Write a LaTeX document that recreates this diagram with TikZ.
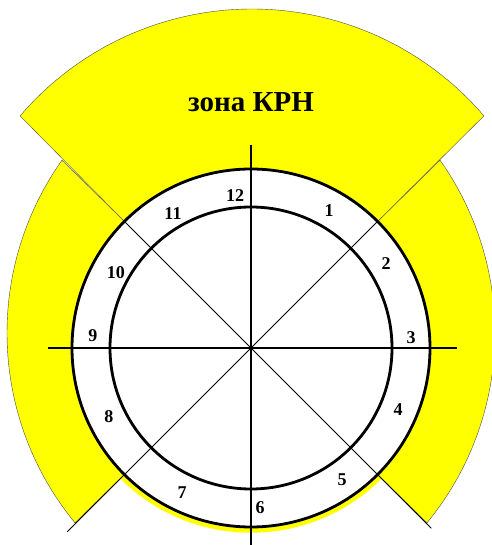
\documentclass[tikz,border=0pt]{standalone}
\usepackage{fontspec}
\setmainfont{Liberation Serif}
\definecolor{zoneyellow}{RGB}{255,255,0}

\begin{document}
\begin{tikzpicture}[x=1pt, y=1pt]
% --- Global Styles ---
\tikzstyle{zone} = [fill=zoneyellow, draw=black!70, line width=0.4pt]
\tikzstyle{ring} = [line width=2.8pt]
\tikzstyle{hline} = [line width=1.8pt]
\tikzstyle{vline} = [line width=1.3pt]
\tikzstyle{diag} = [line width=0.8pt]
\tikzstyle{hour} = [font=\fontsize{18}{18}\bfseries\selectfont, inner sep=0pt]
\tikzstyle{title} = [font=\fontsize{29}{29}\bfseries\selectfont, inner sep=0pt]

% --- Radii ---
\def\Rout{179}   % outer ring
\def\Rin{141}    % inner ring

\useasboundingbox (-251,-197) rectangle (240,348);

% ==========================================
% Yellow zones
% ==========================================
% left zone
\path[zone] ([shift={(55,15)}]144.7:299) arc[start angle=144.7, end angle=219.4, radius=299pt]
  -- (225:\Rout) arc[start angle=225, end angle=135, radius=\Rout pt] -- cycle;
% right zone
\path[zone] ([shift={(-55,15)}]35.3:299) arc[start angle=35.3, end angle=-39.4, radius=299pt]
  -- (-45:\Rout) arc[start angle=-45, end angle=45, radius=\Rout pt] -- cycle;
% top zone (zona KRN)
\path[zone] ([shift={(1,34)}]139.5:305) arc[start angle=139.5, end angle=40.5, radius=305pt]
  -- (45:\Rout) arc[start angle=45, end angle=135, radius=\Rout pt] -- cycle;
% thin band under the dial
\draw[zoneyellow, line width=4.5pt] (225:182.5) arc[start angle=225, end angle=315, radius=182.5pt];

% ==========================================
% Dial
% ==========================================
% diagonals
\draw[diag] (135:\Rout) -- (315:255);
\draw[diag] (45:\Rout) -- (225:260);

% axes
\draw[hline] (-203,0) -- (206,0);
\draw[vline] (0,203) -- (0,-200);

% rings
\draw[ring] (0,0) circle[radius=\Rout pt];
\draw[ring] (0,0) circle[radius=\Rin pt];

% hour numbers
\node[hour] (h12) at (-16,152) {12};
\node[hour] (h1) at (78,137) {1};
\node[hour] (h2) at (135,84) {2};
\node[hour] (h3) at (160,10) {3};
\node[hour] (h4) at (147,-62) {4};
\node[hour] (h5) at (91,-132) {5};
\node[hour] (h6) at (9,-160) {6};
\node[hour] (h7) at (-69,-145) {7};
\node[hour] (h8) at (-142,-69) {8};
\node[hour] (h9) at (-158,12) {9};
\node[hour] (h10) at (-135,75) {10};
\node[hour] (h11) at (-78,134) {11};

% zone label
\node[title, anchor=base] (zona) at (0,236) {зона КРН};

\end{tikzpicture}
\end{document}
